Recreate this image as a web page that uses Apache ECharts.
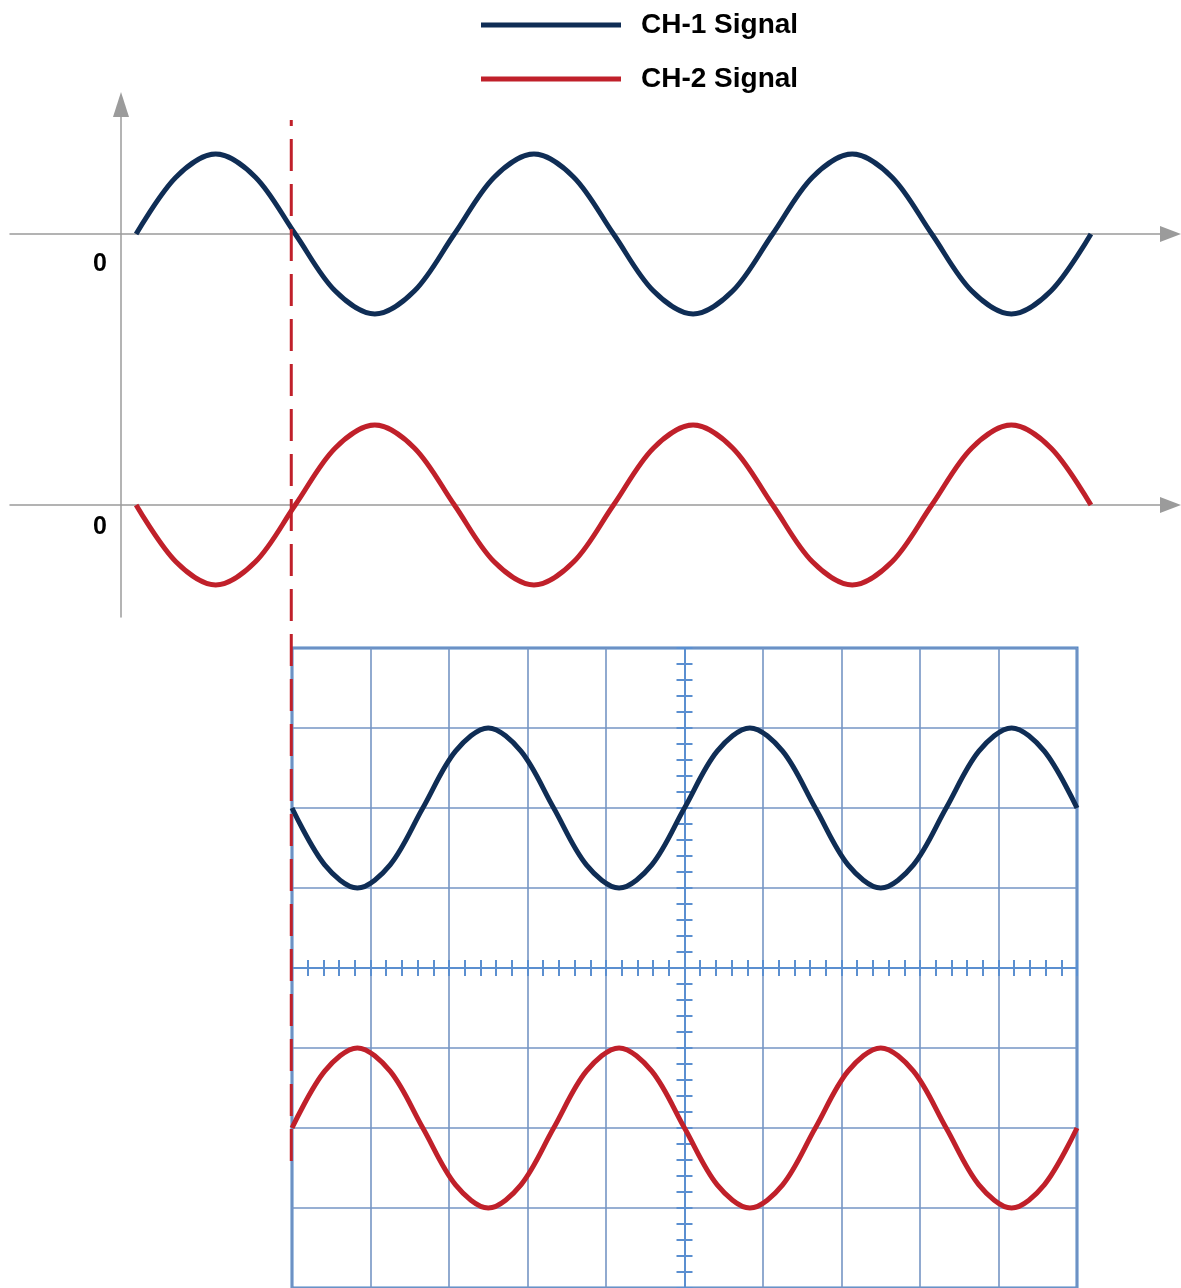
<!DOCTYPE html>
<html>
<head>
<meta charset="utf-8">
<style>
  html, body { margin: 0; padding: 0; background: #fff; }
  #chart { width: 1181px; height: 1288px; }
</style>
<script src="https://cdn.jsdelivr.net/npm/echarts@6/dist/echarts.min.js"></script>
</head>
<body>
<div id="chart"></div>
<script>
// ---- data ----
const seriesNames = ['CH-1 Signal', 'CH-2 Signal'];
const baselineLabel = '0';
// top diagram: samples every 1/8 period, 3 periods (time units 0..24)
const ch1Top = [0, 0.71, 1, 0.71, 0, -0.71, -1, -0.71,
                0, 0.71, 1, 0.71, 0, -0.71, -1, -0.71,
                0, 0.71, 1, 0.71, 0, -0.71, -1, -0.71, 0];
const ch2Top = [0, -0.71, -1, -0.71, 0, 0.71, 1, 0.71,
                0, -0.71, -1, -0.71, 0, 0.71, 1, 0.71,
                0, -0.71, -1, -0.71, 0, 0.71, 1, 0.71, 0];
// oscilloscope screen: values in divisions (centre = 0), samples every 1/8 period
const ch1Scope = [2, 1.29, 1, 1.29, 2, 2.71, 3, 2.71,
                  2, 1.29, 1, 1.29, 2, 2.71, 3, 2.71,
                  2, 1.29, 1, 1.29, 2, 2.71, 3, 2.71, 2];
const ch2Scope = [-2, -1.29, -1, -1.29, -2, -2.71, -3, -2.71,
                  -2, -1.29, -1, -1.29, -2, -2.71, -3, -2.71,
                  -2, -1.29, -1, -1.29, -2, -2.71, -3, -2.71, -2];
const triggerTime = 3.9;   // dashed trigger line, in top time units

// ---- styles ----
const BLUE = '#0f2d55', RED = '#c0202a', AXIS_GRAY = '#9b9b9b';
const SCOPE_GRID = '#7595c4', SCOPE_AXIS = '#5b8fd0', SCOPE_BORDER = '#4f86c6';
const FONT = '"Liberation Sans", Arial, sans-serif';
const SMOOTH = 0.33;

const pairs = arr => arr.map((v, i) => [i, v]);

const hiddenParts = {
  axisTick: { show: false }, axisLabel: { show: false }, splitLine: { show: false }
};

const topX = (grid, yIdx) => Object.assign({
  type: 'value', gridIndex: grid, min: -3.17, max: 26,
  axisLine: {
    show: true, onZero: true, onZeroAxisIndex: yIdx,
    symbol: ['none', 'triangle'], symbolSize: [16, 21],
    lineStyle: { color: AXIS_GRAY, width: 1.5 }
  }
}, hiddenParts);

const topY = (grid, padTop) => ({
  type: 'value', gridIndex: grid, min: -1, max: 1, interval: 1, offset: -111,
  axisLine: { show: false, onZero: false },
  axisTick: { show: false }, splitLine: { show: false },
  axisLabel: {
    show: true, margin: 14, fontSize: 25, fontWeight: 'bold', color: '#000',
    fontFamily: FONT, verticalAlign: 'top', padding: [padTop, 0, 0, 0],
    formatter: v => (v === 0 ? baselineLabel : '')
  }
});

const centerX = inside => ({
  type: 'value', gridIndex: 4, min: -5, max: 5, interval: 0.2,
  axisLine: { show: true, onZero: true, onZeroAxisIndex: 5,
              lineStyle: { color: SCOPE_AXIS, width: 2 } },
  axisTick: { show: true, inside: inside, length: 8,
              lineStyle: { color: SCOPE_AXIS, width: 2 } },
  axisLabel: { show: false }, splitLine: { show: false }
});
const centerY = inside => ({
  type: 'value', gridIndex: 4, min: -4, max: 4, interval: 0.2,
  axisLine: { show: true, onZero: true, onZeroAxisIndex: 6,
              lineStyle: { color: SCOPE_AXIS, width: 2 } },
  axisTick: { show: true, inside: inside, length: 8,
              lineStyle: { color: SCOPE_AXIS, width: 2 } },
  axisLabel: { show: false }, splitLine: { show: false }
});

const signal = (name, xi, yi, arr, color) => ({
  name: name, type: 'line', xAxisIndex: xi, yAxisIndex: yi, data: pairs(arr),
  smooth: SMOOTH, symbol: 'none', clip: false, z: 3,
  itemStyle: { color: color }, lineStyle: { color: color, width: 5 }
});

const option = {
  animation: false,
  backgroundColor: '#fff',
  legend: {
    data: seriesNames, orient: 'vertical', left: 481, top: 8, padding: 0,
    itemWidth: 140, itemHeight: 5, itemGap: 20, icon: 'rect', selectedMode: false,
    textStyle: { fontSize: 28, fontWeight: 'bold', color: '#000', fontFamily: FONT,
                 padding: [0, 0, 0, 15], lineHeight: 34 }
  },
  grid: [
    { left: 10, right: 10.5, top: 154, height: 160 },      // 0 CH-1 top
    { left: 10, right: 10.5, top: 425, height: 160 },      // 1 CH-2 top
    { left: 121, top: 104.5, height: 512.5, width: 10 },   // 2 vertical axis
    { left: 10, right: 10.5, top: 120, bottom: 127 },      // 3 trigger overlay
    { left: 292, right: 104, top: 648, bottom: 0, show: true,
      borderColor: SCOPE_BORDER, borderWidth: 3, backgroundColor: 'transparent' } // 4 scope
  ],
  xAxis: [
    topX(0, 0),
    topX(1, 1),
    { type: 'value', gridIndex: 2, min: 0, max: 1, show: false },
    { type: 'value', gridIndex: 3, min: -3.17, max: 26, show: false },
    { type: 'value', gridIndex: 4, min: 0, max: 10, interval: 1,
      axisLine: { show: false, onZero: false }, axisTick: { show: false },
      axisLabel: { show: false },
      splitLine: { show: true, lineStyle: { color: SCOPE_GRID, width: 1.6 } } },
    { type: 'value', gridIndex: 4, min: 0, max: 24, show: false },
    centerX(true),
    centerX(false)
  ],
  yAxis: [
    topY(0, 18),
    topY(1, 10),
    Object.assign({ type: 'value', gridIndex: 2, min: 0, max: 1,
      axisLine: { show: true, onZero: false, symbol: ['none', 'triangle'], symbolSize: [16, 25],
                  lineStyle: { color: AXIS_GRAY, width: 1.5 } } }, hiddenParts),
    { type: 'value', gridIndex: 3, min: 0, max: 1, show: false },
    { type: 'value', gridIndex: 4, min: -4, max: 4, interval: 1,
      axisLine: { show: false, onZero: false }, axisTick: { show: false },
      axisLabel: { show: false },
      splitLine: { show: true, lineStyle: { color: SCOPE_GRID, width: 1.6 } } },
    centerY(true),
    centerY(false)
  ],
  series: [
    signal(seriesNames[0], 0, 0, ch1Top, BLUE),
    signal(seriesNames[1], 1, 1, ch2Top, RED),
    signal(seriesNames[0], 5, 4, ch1Scope, BLUE),
    signal(seriesNames[1], 5, 4, ch2Scope, RED),
    { name: 'Trigger', type: 'line', xAxisIndex: 3, yAxisIndex: 3,
      data: [[triggerTime, 0], [triggerTime, 1]], symbol: 'none', clip: false, z: 10,
      itemStyle: { color: RED }, lineStyle: { color: RED, width: 3, type: [32, 13] } }
  ]
};

const chart = echarts.init(document.getElementById('chart'), null, { renderer: 'canvas' });
chart.setOption(option);
</script>
</body>
</html>
